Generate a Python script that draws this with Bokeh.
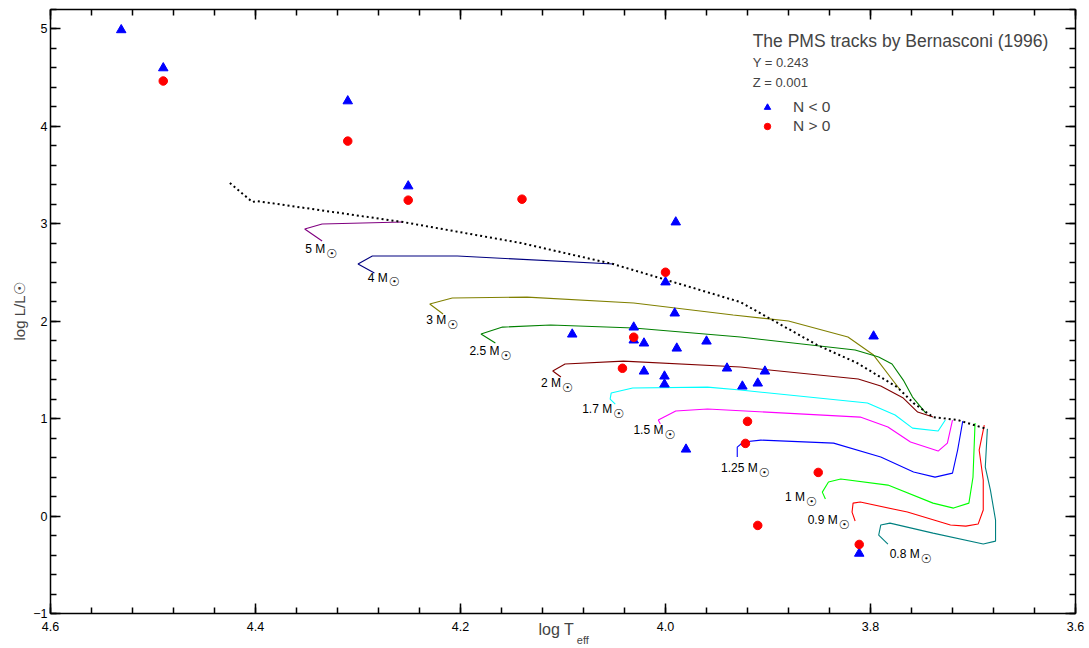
import numpy as np
from bokeh.plotting import figure
from bokeh.models import (Range1d, FixedTicker, PrintfTickFormatter, LinearAxis,
                          Label, Legend, LegendItem, ColumnDataSource)
from bokeh.embed import file_html
from bokeh.resources import INLINE
from bokeh.core.properties import value

# ---------------- data ----------------
# stars with N < 0 (blue triangles)
neg_logT = [4.531, 4.490, 4.310, 4.251, 3.990, 4.000, 3.991, 3.797, 4.091, 4.031,
            4.031, 4.021, 3.989, 3.960, 4.021, 4.001, 4.001, 3.940, 3.903, 3.925,
            3.910, 3.980, 3.811]
neg_logL = [4.990, 4.599, 4.260, 3.387, 3.017, 2.401, 2.082, 1.846, 1.866, 1.938,
            1.805, 1.774, 1.722, 1.794, 1.486, 1.435, 1.353, 1.517, 1.486, 1.332,
            1.363, 0.685, -0.384]
# stars with N > 0 (red circles)
pos_logT = [4.490, 4.310, 4.251, 4.140, 4.000, 4.031, 4.042, 3.920, 3.922, 3.851,
            3.910, 3.811]
pos_logL = [4.466, 3.849, 3.243, 3.253, 2.503, 1.836, 1.517, 0.972, 0.746, 0.448,
            -0.096, -0.291]

# birthline (dotted)
birth_logT = [4.425, 4.403, 4.399, 4.256, 4.141, 4.051, 3.927, 3.852, 3.813, 3.774,
              3.758, 3.739, 3.715, 3.686]
birth_logL = [3.419, 3.224, 3.234, 3.018, 2.803, 2.587, 2.197, 1.756, 1.571, 1.324,
              1.160, 1.016, 0.986, 0.893]

# PMS tracks
t50_T = [4.335, 4.352, 4.335, 4.256]
t50_L = [2.823, 2.947, 2.998, 3.018]
t40_T = [4.284, 4.300, 4.286, 4.203, 4.051]
t40_L = [2.495, 2.587, 2.669, 2.669, 2.587]
t30_T = [4.217, 4.230, 4.208, 4.135, 4.031, 3.934, 3.880, 3.822, 3.797, 3.771]
t30_L = [2.074, 2.177, 2.238, 2.248, 2.187, 2.064, 2.002, 1.838, 1.653, 1.294]
t25_T = [4.166, 4.180, 4.159, 4.112, 4.031, 3.927, 3.815, 3.792, 3.779, 3.768, 3.759, 3.746]
t25_L = [1.776, 1.869, 1.940, 1.961, 1.930, 1.838, 1.704, 1.632, 1.561, 1.396, 1.222, 1.057]
t20_T = [4.102, 4.110, 4.098, 4.041, 3.927, 3.812, 3.790, 3.768, 3.754, 3.739]
t20_L = [1.427, 1.489, 1.561, 1.591, 1.530, 1.407, 1.335, 1.211, 1.068, 1.016]
t17_T = [4.049, 4.054, 4.053, 4.032, 3.959, 3.927, 3.803, 3.776, 3.759, 3.734, 3.727]
t17_L = [1.150, 1.201, 1.263, 1.314, 1.324, 1.294, 1.160, 1.037, 0.903, 0.873, 0.986]
t15_T = [4.005, 4.007, 3.990, 3.959, 3.810, 3.783, 3.761, 3.734, 3.725, 3.720]
t15_L = [0.945, 0.986, 1.078, 1.099, 1.016, 0.914, 0.760, 0.667, 0.749, 0.986]
t125_T = [3.930, 3.930, 3.924, 3.907, 3.836, 3.790, 3.758, 3.737, 3.720, 3.715, 3.710]
t125_L = [0.606, 0.708, 0.760, 0.780, 0.749, 0.606, 0.452, 0.400, 0.441, 0.678, 0.975]
t10_T = [3.844, 3.847, 3.841, 3.829, 3.783, 3.739, 3.719, 3.704, 3.700, 3.698]
t10_L = [0.175, 0.246, 0.349, 0.380, 0.318, 0.133, 0.082, 0.133, 0.400, 0.955]
t09_T = [3.815, 3.818, 3.817, 3.810, 3.764, 3.722, 3.707, 3.695, 3.690, 3.690, 3.694, 3.689]
t09_L = [-0.051, 0.041, 0.133, 0.144, 0.041, -0.092, -0.103, -0.082, 0.062, 0.370, 0.678, 0.934]
t08_T = [3.783, 3.792, 3.790, 3.781, 3.739, 3.690, 3.678, 3.678, 3.683, 3.688, 3.686]
t08_L = [-0.287, -0.195, -0.092, -0.072, -0.175, -0.287, -0.257, -0.041, 0.267, 0.503, 0.893]

track_T = [t50_T, t40_T, t30_T, t25_T, t20_T, t17_T, t15_T, t125_T, t10_T, t09_T, t08_T]
track_L = [t50_L, t40_L, t30_L, t25_L, t20_L, t17_L, t15_L, t125_L, t10_L, t09_L, t08_L]
track_colors = ["#800080", "#000080", "#808000", "#008000", "#800000", "#00FFFF",
                "#FF00FF", "#0000FF", "#00FF00", "#FF0000", "#008080"]

# mass labels (anchor = end of "M", symbol follows)
mass_text = ["5 M", "4 M", "3 M", "2.5 M", "2 M", "1.7 M", "1.5 M", "1.25 M", "1 M", "0.9 M", "0.8 M"]
mass_T = [4.332, 4.271, 4.214, 4.162, 4.102, 4.052, 4.002, 3.910, 3.864, 3.832, 3.752]
mass_L = [2.741, 2.444, 2.012, 1.694, 1.366, 1.099, 0.883, 0.493, 0.195, -0.041, -0.390]

x_major = [4.6, 4.4, 4.2, 4.0, 3.8, 3.6]
y_major = [-1, 0, 1, 2, 3, 4, 5]
x_minor = [round(v, 2) for v in np.arange(3.6, 4.6001, 0.04)]
y_minor = [round(v, 1) for v in np.arange(-1.0, 5.2001, 0.2)]

FONT = "Liberation Sans"
NBSP = "\u00a0"

# ---------------- figure ----------------
p = figure(x_range=Range1d(4.6, 3.6), y_range=Range1d(-1, 5.2),
           frame_width=1025, frame_height=604,
           min_border_left=50, min_border_top=9, min_border_right=12, min_border_bottom=0,
           output_backend="svg", toolbar_location=None)
p.grid.visible = False
p.outline_line_color = None
p.background_fill_color = "white"

xt = FixedTicker(ticks=x_major, minor_ticks=x_minor)
yt = FixedTicker(ticks=y_major, minor_ticks=y_minor)

def style_axis(ax, show_labels):
    ax.axis_line_width = 1.5
    ax.axis_line_color = "black"
    ax.major_tick_in = 10
    ax.major_tick_out = 0
    ax.minor_tick_in = 6
    ax.minor_tick_out = 0
    ax.major_tick_line_width = 1.5
    ax.minor_tick_line_width = 1.5
    ax.major_tick_line_color = "black"
    ax.minor_tick_line_color = "black"
    ax.major_label_text_font = FONT
    if show_labels:
        ax.major_label_text_color = "black"
        ax.major_label_text_font_size = "12.5px"
    else:
        ax.major_label_text_color = None
        ax.major_label_text_font_size = "0px"
        ax.major_label_standoff = 0

p.xaxis.ticker = xt
p.xaxis.formatter = PrintfTickFormatter(format="%.1f")
p.yaxis.ticker = yt
style_axis(p.xaxis[0], True)
style_axis(p.yaxis[0], True)
p.xaxis.major_label_standoff = 8
p.yaxis.major_label_standoff = 3
p.yaxis.axis_label = "log L/L\u2609"
p.yaxis.axis_label_text_font = FONT
p.yaxis.axis_label_text_font_style = "normal"
p.yaxis.axis_label_text_font_size = "15px"
p.yaxis.axis_label_standoff = 2

# x-axis title "log T" (beside the tick labels), subscript "eff" on a second, bare axis
p.xaxis.axis_label = "log T" + NBSP * 3
p.xaxis.axis_label_text_font = FONT
p.xaxis.axis_label_text_font_style = "normal"
p.xaxis.axis_label_text_font_size = "16px"
p.xaxis.axis_label_standoff = -13

sub_ax = LinearAxis(ticker=FixedTicker(ticks=[]), axis_label=NBSP * 13 + "eff",
                    axis_label_text_font=FONT, axis_label_text_font_style="normal",
                    axis_label_text_font_size="11px", axis_label_standoff=-7,
                    axis_line_color=None, major_tick_line_color=None,
                    minor_tick_line_color=None, major_label_text_color=None,
                    major_label_text_font_size="0px", major_label_standoff=0,
                    major_tick_out=0, minor_tick_out=0)
p.add_layout(sub_ax, "below")

top_ax = LinearAxis(ticker=xt)
style_axis(top_ax, False)
right_ax = LinearAxis(ticker=yt)
style_axis(right_ax, False)
p.add_layout(top_ax, "above")
p.add_layout(right_ax, "right")

# tracks
for T, L, c in zip(track_T, track_L, track_colors):
    p.line(T, L, line_color=c, line_width=1.1)

# birthline
p.line(birth_logT, birth_logL, line_color="black", line_width=2, line_dash="2 3")

# stars
neg = p.scatter(neg_logT, neg_logL, marker="triangle", size=9.5, fill_color="#0000FF",
                line_color="#0000FF")
pos = p.scatter(pos_logT, pos_logL, marker="circle", size=8.5, fill_color="#FF0000",
                line_color="#FF0000")

# mass labels
ms = ColumnDataSource(dict(x=mass_T, y=mass_L, t=mass_text, s=["\u2609"] * len(mass_text)))
p.text(x="x", y="y", text="t", source=ms, text_align="right", text_baseline="middle",
       text_font=value(FONT), text_font_size="12px", text_color="black")
p.text(x="x", y="y", text="s", source=ms, text_align="left", text_baseline="middle",
       y_offset=4, x_offset=1, text_font=value("DejaVu Sans"), text_font_size="12.5px",
       text_color="black")

# annotation texts
p.add_layout(Label(x=3.915, y=4.877, text="The PMS tracks by Bernasconi (1996)",
                   text_font=FONT, text_font_size="17.5px", text_baseline="middle"))
p.add_layout(Label(x=3.915, y=4.651, text="Y = 0.243", text_font=FONT,
                   text_font_size="13px", text_baseline="middle"))
p.add_layout(Label(x=3.915, y=4.446, text="Z = 0.001", text_font=FONT,
                   text_font_size="13px", text_baseline="middle"))

legend = Legend(items=[LegendItem(label="N < 0", renderers=[neg]),
                       LegendItem(label="N > 0", renderers=[pos])],
                location=(707, 478), padding=0, margin=0, spacing=1,
                glyph_width=20, glyph_height=16, label_height=16, label_standoff=16,
                label_text_font=FONT, label_text_font_size="15.5px",
                border_line_color=None, background_fill_alpha=0)
p.add_layout(legend)

open("out.html", "w").write(file_html(p, INLINE))
